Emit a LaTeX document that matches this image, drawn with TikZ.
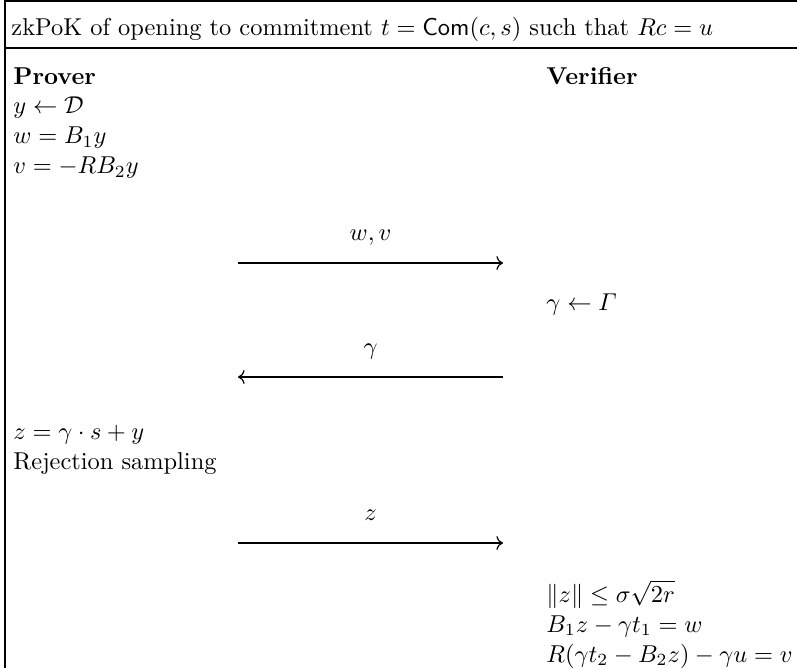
\documentclass[tikz,border=0pt]{standalone}
\usepackage{amsmath,amssymb}
\usetikzlibrary{positioning,arrows.meta}

\begin{document}
\begin{tikzpicture}[
    x=0.41pt, y=-0.41pt,
    row/.style={inner sep=0pt, anchor=north west, text height=8.3pt, text depth=3.5pt},
    head/.style={row, font=\bfseries},
    lbl/.style={inner sep=0pt, text depth=2pt},
    msg/.style={->, line width=0.5pt},
    rule/.style={line width=0.6pt}
]
\useasboundingbox (0,0) rectangle (797,668);

% Frame
\draw[rule] (5,668) -- (5,1) -- (797,1);
\draw[rule] (5,48) -- (797,48);
\node[inner sep=0pt, anchor=base west] (title) at (11,35)
    {zkPoK of opening to commitment $t = \mathsf{Com}(c, s)$ such that $Rc = u$};

% Prover
\node[head] (prover) at (13,63.5) {Prover};
\node[row, below=0pt of prover.south west, anchor=north west] (ysamp) {$y \leftarrow \mathcal{D}$};
\node[row, below=0pt of ysamp.south west, anchor=north west] (wdef) {$w = B_1 y$};
\node[row, below=0pt of wdef.south west, anchor=north west] (vdef) {$v = -R B_2 y$};
\node[row] (zdef) at (13,418.8) {$z = \gamma \cdot s + y$};
\node[row, below=0pt of zdef.south west, anchor=north west] (rej) {Rejection sampling};

% Verifier
\node[head] (verifier) at (546,63.5) {Verifier};
\node[row] (chal) at (546,290) {$\gamma \leftarrow \varGamma$};
\node[row] (norm) at (546,581.8) {$\|z\| \leq \sigma\sqrt{2r}$};
\node[row, below=0pt of norm.south west, anchor=north west] (chk1) {$B_1 z - \gamma t_1 = w$};
\node[row, below=0pt of chk1.south west, anchor=north west] (chk2) {$R(\gamma t_2 - B_2 z) - \gamma u = v$};

% Messages
\coordinate (m1l) at (238,263);
\coordinate (m1r) at (503,263);
\coordinate (m2l) at (238,377);
\coordinate (m2r) at (503,377);
\coordinate (m3l) at (238,543);
\coordinate (m3r) at (503,543);
\draw[msg] (m1l) -- node[lbl, above=7pt] (lwv) {$w, v$} (m1r);
\draw[msg] (m2r) -- node[lbl, above=7pt] (lgam) {$\gamma$} (m2l);
\draw[msg] (m3l) -- node[lbl, above=7pt] (lz) {$z$} (m3r);
\end{tikzpicture}
\end{document}
